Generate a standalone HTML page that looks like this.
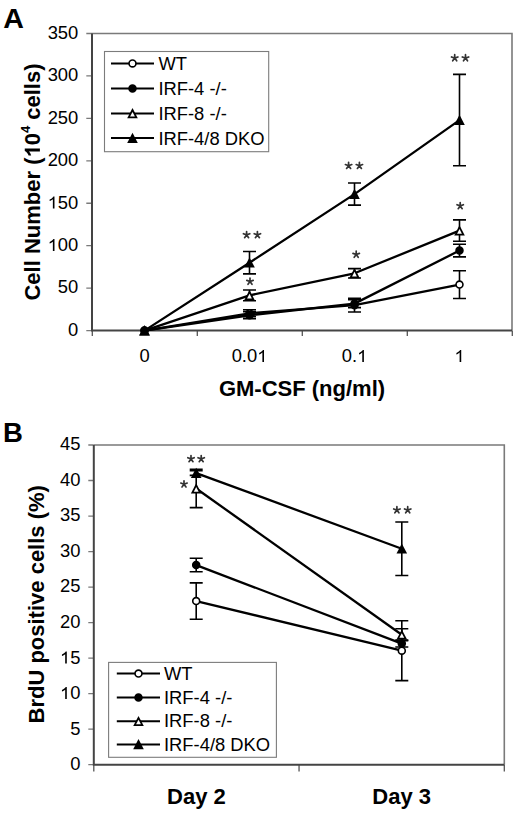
<!DOCTYPE html>
<html><head><meta charset="utf-8"><style>
html,body{margin:0;padding:0;background:#fff;}
svg{display:block;}
text{font-family:"Liberation Sans",sans-serif;fill:#000;font-kerning:none;}
.tl{font-size:17.5px;}
.lg{font-size:17.5px;}
.at{font-size:22px;font-weight:bold;}
.pl{font-size:27.5px;font-weight:bold;}
.sup{font-size:13px;}
.ast{font-size:27px;fill:#222;}
</style></head><body>
<svg width="520" height="815" viewBox="0 0 520 815">
<rect width="520" height="815" fill="#fff"/>
<path d="M92 33.5H512V330.6" stroke="#7a7a7a" stroke-width="1.6" fill="none"/>
<path d="M86.3 330.6H92M86.3 288.16H92M86.3 245.71H92M86.3 203.27H92M86.3 160.83H92M86.3 118.39H92M86.3 75.94H92M86.3 33.5H92" stroke="#7a7a7a" stroke-width="1.3" fill="none"/>
<path d="M92.3 330.6V336M197.3 330.6V336M302.3 330.6V336M407.3 330.6V336M512.3 330.6V336" stroke="#555" stroke-width="1.3" fill="none"/>
<path d="M92 33.5V330.6H512" stroke="#444" stroke-width="2" fill="none"/>
<g transform="translate(78.3 335.9) scale(1.05 1)"><text x="-9.73" y="0" style="font-size:17.5px">0</text></g>
<g transform="translate(78.3 293.46) scale(1.05 1)"><text x="-19.47" y="0" style="font-size:17.5px">50</text></g>
<g transform="translate(78.3 251.01) scale(1.05 1)"><text x="-29.2" y="0" style="font-size:17.5px"> 00</text><path d="M763 0L583 0L583 1147C540 1106 483 1064 413 1023C343 982 280 951 223 930L223 1104C324 1151 412 1209 487 1276C562 1344 615 1409 646 1472L763 1472Z" transform="translate(-29.2 0) scale(0.00854 -0.00818)"/></g>
<g transform="translate(78.3 208.57) scale(1.05 1)"><text x="-29.2" y="0" style="font-size:17.5px"> 50</text><path d="M763 0L583 0L583 1147C540 1106 483 1064 413 1023C343 982 280 951 223 930L223 1104C324 1151 412 1209 487 1276C562 1344 615 1409 646 1472L763 1472Z" transform="translate(-29.2 0) scale(0.00854 -0.00818)"/></g>
<g transform="translate(78.3 166.13) scale(1.05 1)"><text x="-29.2" y="0" style="font-size:17.5px">200</text></g>
<g transform="translate(78.3 123.69) scale(1.05 1)"><text x="-29.2" y="0" style="font-size:17.5px">250</text></g>
<g transform="translate(78.3 81.24) scale(1.05 1)"><text x="-29.2" y="0" style="font-size:17.5px">300</text></g>
<g transform="translate(78.3 38.8) scale(1.05 1)"><text x="-29.2" y="0" style="font-size:17.5px">350</text></g>
<g transform="translate(144.5 362) scale(1.05 1)"><text x="-4.87" y="0" style="font-size:17.5px">0</text></g>
<g transform="translate(249.5 362) scale(1.05 1)"><text x="-17.03" y="0" style="font-size:17.5px">0.0 </text><path d="M763 0L583 0L583 1147C540 1106 483 1064 413 1023C343 982 280 951 223 930L223 1104C324 1151 412 1209 487 1276C562 1344 615 1409 646 1472L763 1472Z" transform="translate(7.3 0) scale(0.00854 -0.00818)"/></g>
<g transform="translate(354.5 362) scale(1.05 1)"><text x="-12.16" y="0" style="font-size:17.5px">0. </text><path d="M763 0L583 0L583 1147C540 1106 483 1064 413 1023C343 982 280 951 223 930L223 1104C324 1151 412 1209 487 1276C562 1344 615 1409 646 1472L763 1472Z" transform="translate(2.43 0) scale(0.00854 -0.00818)"/></g>
<g transform="translate(459.5 362) scale(1.05 1)"><text x="-4.87" y="0" style="font-size:17.5px"> </text><path d="M763 0L583 0L583 1147C540 1106 483 1064 413 1023C343 982 280 951 223 930L223 1104C324 1151 412 1209 487 1276C562 1344 615 1409 646 1472L763 1472Z" transform="translate(-4.87 0) scale(0.00854 -0.00818)"/></g>
<rect x="104.5" y="51.5" width="164.2" height="100.2" fill="#fff" stroke="#7c7c7c" stroke-width="1.1"/>
<path d="M111 63.4H154" stroke="#000" stroke-width="2"/>
<circle cx="132.5" cy="63.4" r="3.45" fill="#fff" stroke="#000" stroke-width="1.6"/>
<text transform="translate(158.4 70.1) scale(1.05 1)" class="lg">WT</text>
<path d="M111 88.4H154" stroke="#000" stroke-width="2"/>
<circle cx="132.5" cy="88.4" r="3.45" fill="#000" stroke="#000" stroke-width="1.6"/>
<text transform="translate(158.4 95.1) scale(1.05 1)" class="lg">IRF-4 -/-</text>
<path d="M111 113.4H154" stroke="#000" stroke-width="2"/>
<path d="M132.5 108.1L137.8 118.3L127.2 118.3Z" fill="#000"/><path d="M132.5 111.9L134.92 116.55L130.08 116.55Z" fill="#fff"/>
<text transform="translate(158.4 120.1) scale(1.05 1)" class="lg">IRF-8 -/-</text>
<path d="M111 138.1H154" stroke="#000" stroke-width="2"/>
<path d="M132.5 132.8L137.8 143L127.2 143Z" fill="#000"/>
<text transform="translate(158.4 144.8) scale(1.05 1)" class="lg">IRF-4/8 DKO</text>
<path d="M144.5 330.6L249.5 313.28L354.5 305.13L459.5 284.59" stroke="#000" stroke-width="2.3" fill="none" stroke-linejoin="round"/>
<path d="M144.5 330.6L249.5 315.24L354.5 303.61L459.5 250.55" stroke="#000" stroke-width="2.3" fill="none" stroke-linejoin="round"/>
<path d="M144.5 330.6L249.5 295.37L354.5 273.3L459.5 230.6" stroke="#000" stroke-width="2.3" fill="none" stroke-linejoin="round"/>
<path d="M144.5 330.6L249.5 262.69L354.5 194.1L459.5 120.08" stroke="#000" stroke-width="2.3" fill="none" stroke-linejoin="round"/>
<path d="M249.5 309.8V316.76M243 309.8H256M243 316.76H256" stroke="#000" stroke-width="1.6" fill="none"/>
<path d="M354.5 298.26V312.01M348 298.26H361M348 312.01H361" stroke="#000" stroke-width="1.6" fill="none"/>
<path d="M459.5 270.76V298.43M453 270.76H466M453 298.43H466" stroke="#000" stroke-width="1.6" fill="none"/>
<circle cx="144.5" cy="330.6" r="3.45" fill="#fff" stroke="#000" stroke-width="1.6"/>
<circle cx="249.5" cy="313.28" r="3.45" fill="#fff" stroke="#000" stroke-width="1.6"/>
<circle cx="354.5" cy="305.13" r="3.45" fill="#fff" stroke="#000" stroke-width="1.6"/>
<circle cx="459.5" cy="284.59" r="3.45" fill="#fff" stroke="#000" stroke-width="1.6"/>
<path d="M249.5 311.67V318.8M243 311.67H256M243 318.8H256" stroke="#000" stroke-width="1.6" fill="none"/>
<path d="M354.5 299.62V307.6M348 299.62H361M348 307.6H361" stroke="#000" stroke-width="1.6" fill="none"/>
<path d="M459.5 244.27V256.83M453 244.27H466M453 256.83H466" stroke="#000" stroke-width="1.6" fill="none"/>
<circle cx="144.5" cy="330.6" r="3.45" fill="#000" stroke="#000" stroke-width="1.6"/>
<circle cx="249.5" cy="315.24" r="3.45" fill="#000" stroke="#000" stroke-width="1.6"/>
<circle cx="354.5" cy="303.61" r="3.45" fill="#000" stroke="#000" stroke-width="1.6"/>
<circle cx="459.5" cy="250.55" r="3.45" fill="#000" stroke="#000" stroke-width="1.6"/>
<path d="M249.5 290.02V300.72M243 290.02H256M243 300.72H256" stroke="#000" stroke-width="1.6" fill="none"/>
<path d="M354.5 268.63V277.97M348 268.63H361M348 277.97H361" stroke="#000" stroke-width="1.6" fill="none"/>
<path d="M459.5 219.91V241.3M453 219.91H466M453 241.3H466" stroke="#000" stroke-width="1.6" fill="none"/>
<path d="M144.5 325.3L149.8 335.5L139.2 335.5Z" fill="#000"/><path d="M144.5 329.1L146.92 333.75L142.08 333.75Z" fill="#fff"/>
<path d="M249.5 290.07L254.8 300.27L244.2 300.27Z" fill="#000"/><path d="M249.5 293.87L251.92 298.52L247.08 298.52Z" fill="#fff"/>
<path d="M354.5 268L359.8 278.2L349.2 278.2Z" fill="#000"/><path d="M354.5 271.8L356.92 276.45L352.08 276.45Z" fill="#fff"/>
<path d="M459.5 225.3L464.8 235.5L454.2 235.5Z" fill="#000"/><path d="M459.5 229.1L461.92 233.75L457.08 233.75Z" fill="#fff"/>
<path d="M249.5 251.49V273.9M243 251.49H256M243 273.9H256" stroke="#000" stroke-width="1.6" fill="none"/>
<path d="M354.5 183.07V205.14M348 183.07H361M348 205.14H361" stroke="#000" stroke-width="1.6" fill="none"/>
<path d="M459.5 74.41V165.75M453 74.41H466M453 165.75H466" stroke="#000" stroke-width="1.6" fill="none"/>
<path d="M144.5 325.3L149.8 335.5L139.2 335.5Z" fill="#000"/>
<path d="M249.5 257.39L254.8 267.59L244.2 267.59Z" fill="#000"/>
<path d="M354.5 188.8L359.8 199L349.2 199Z" fill="#000"/>
<path d="M459.5 114.78L464.8 124.98L454.2 124.98Z" fill="#000"/>
<path d="M246.6 234.9L246.6 231.5M246.6 234.9L249.79 233.74M246.6 234.9L243.41 233.74M246.6 234.9L248.6 237.65M246.6 234.9L244.6 237.65" stroke="#333" stroke-width="1.7" stroke-linecap="round" fill="none"/>
<path d="M257.4 234.9L257.4 231.5M257.4 234.9L260.59 233.74M257.4 234.9L254.21 233.74M257.4 234.9L259.4 237.65M257.4 234.9L255.4 237.65" stroke="#333" stroke-width="1.7" stroke-linecap="round" fill="none"/>
<path d="M250 281.5L250 278.1M250 281.5L253.19 280.34M250 281.5L246.81 280.34M250 281.5L252 284.25M250 281.5L248 284.25" stroke="#333" stroke-width="1.7" stroke-linecap="round" fill="none"/>
<path d="M348.6 165.7L348.6 162.3M348.6 165.7L351.79 164.54M348.6 165.7L345.41 164.54M348.6 165.7L350.6 168.45M348.6 165.7L346.6 168.45" stroke="#333" stroke-width="1.7" stroke-linecap="round" fill="none"/>
<path d="M359.4 165.7L359.4 162.3M359.4 165.7L362.59 164.54M359.4 165.7L356.21 164.54M359.4 165.7L361.4 168.45M359.4 165.7L357.4 168.45" stroke="#333" stroke-width="1.7" stroke-linecap="round" fill="none"/>
<path d="M356.2 254.5L356.2 251.1M356.2 254.5L359.39 253.34M356.2 254.5L353.01 253.34M356.2 254.5L358.2 257.25M356.2 254.5L354.2 257.25" stroke="#333" stroke-width="1.7" stroke-linecap="round" fill="none"/>
<path d="M454.7 58.1L454.7 54.7M454.7 58.1L457.89 56.94M454.7 58.1L451.51 56.94M454.7 58.1L456.7 60.85M454.7 58.1L452.7 60.85" stroke="#333" stroke-width="1.7" stroke-linecap="round" fill="none"/>
<path d="M465.5 58.1L465.5 54.7M465.5 58.1L468.69 56.94M465.5 58.1L462.31 56.94M465.5 58.1L467.5 60.85M465.5 58.1L463.5 60.85" stroke="#333" stroke-width="1.7" stroke-linecap="round" fill="none"/>
<path d="M460.2 205.9L460.2 202.5M460.2 205.9L463.39 204.74M460.2 205.9L457.01 204.74M460.2 205.9L462.2 208.65M460.2 205.9L458.2 208.65" stroke="#333" stroke-width="1.7" stroke-linecap="round" fill="none"/>
<text transform="translate(3.2 28.1) scale(1.04 1)" class="pl">A</text>
<text x="302" y="396.3" class="at" text-anchor="middle">GM-CSF (ng/ml)</text>
<g transform="translate(39.9 182) rotate(-90)"><text x="-118.55" y="0" class="at">Cell Number ( 0</text><path d="M834 0L553 0L553 1059C450 963 329 892 190 846L190 1101C263 1125 343 1170 429 1237C515 1304 574 1382 606 1472L834 1472Z" transform="translate(24.48 0) scale(0.01074 -0.01028)"/><text x="48.95" y="-9.5" class="at" style="font-size:13px">4</text><text x="56.18" y="0" class="at"> cells)</text></g>
<path d="M93.8 445H504.3V764.7" stroke="#7a7a7a" stroke-width="1.6" fill="none"/>
<path d="M88.3 764.7H93.8M88.3 729.18H93.8M88.3 693.66H93.8M88.3 658.13H93.8M88.3 622.61H93.8M88.3 587.09H93.8M88.3 551.57H93.8M88.3 516.04H93.8M88.3 480.52H93.8M88.3 445H93.8" stroke="#7a7a7a" stroke-width="1.3" fill="none"/>
<path d="M93.8 764.7V771.5M299.05 764.7V771.5M504.3 764.7V771.5" stroke="#555" stroke-width="1.3" fill="none"/>
<path d="M93.8 445V764.7H504.3" stroke="#444" stroke-width="2" fill="none"/>
<g transform="translate(80.4 770.1) scale(1.05 1)"><text x="-9.73" y="0" style="font-size:17.5px">0</text></g>
<g transform="translate(80.4 734.58) scale(1.05 1)"><text x="-9.73" y="0" style="font-size:17.5px">5</text></g>
<g transform="translate(80.4 699.06) scale(1.05 1)"><text x="-19.47" y="0" style="font-size:17.5px"> 0</text><path d="M763 0L583 0L583 1147C540 1106 483 1064 413 1023C343 982 280 951 223 930L223 1104C324 1151 412 1209 487 1276C562 1344 615 1409 646 1472L763 1472Z" transform="translate(-19.47 0) scale(0.00854 -0.00818)"/></g>
<g transform="translate(80.4 663.53) scale(1.05 1)"><text x="-19.47" y="0" style="font-size:17.5px"> 5</text><path d="M763 0L583 0L583 1147C540 1106 483 1064 413 1023C343 982 280 951 223 930L223 1104C324 1151 412 1209 487 1276C562 1344 615 1409 646 1472L763 1472Z" transform="translate(-19.47 0) scale(0.00854 -0.00818)"/></g>
<g transform="translate(80.4 628.01) scale(1.05 1)"><text x="-19.47" y="0" style="font-size:17.5px">20</text></g>
<g transform="translate(80.4 592.49) scale(1.05 1)"><text x="-19.47" y="0" style="font-size:17.5px">25</text></g>
<g transform="translate(80.4 556.97) scale(1.05 1)"><text x="-19.47" y="0" style="font-size:17.5px">30</text></g>
<g transform="translate(80.4 521.44) scale(1.05 1)"><text x="-19.47" y="0" style="font-size:17.5px">35</text></g>
<g transform="translate(80.4 485.92) scale(1.05 1)"><text x="-19.47" y="0" style="font-size:17.5px">40</text></g>
<g transform="translate(80.4 450.4) scale(1.05 1)"><text x="-19.47" y="0" style="font-size:17.5px">45</text></g>
<rect x="108.6" y="662.4" width="167.8" height="94.9" fill="#fff" stroke="#7c7c7c" stroke-width="1.1"/>
<path d="M116.8 673.6H160" stroke="#000" stroke-width="2"/>
<circle cx="138.5" cy="673.6" r="3.45" fill="#fff" stroke="#000" stroke-width="1.6"/>
<text transform="translate(164.0 679.8) scale(1.05 1)" class="lg">WT</text>
<path d="M116.8 697.5H160" stroke="#000" stroke-width="2"/>
<circle cx="138.5" cy="697.5" r="3.45" fill="#000" stroke="#000" stroke-width="1.6"/>
<text transform="translate(164.0 703.7) scale(1.05 1)" class="lg">IRF-4 -/-</text>
<path d="M116.8 721.2H160" stroke="#000" stroke-width="2"/>
<path d="M138.5 715.9L143.8 726.1L133.2 726.1Z" fill="#000"/><path d="M138.5 719.7L140.92 724.35L136.08 724.35Z" fill="#fff"/>
<text transform="translate(164.0 727.4) scale(1.05 1)" class="lg">IRF-8 -/-</text>
<path d="M116.8 744.4H160" stroke="#000" stroke-width="2"/>
<path d="M138.5 739.1L143.8 749.3L133.2 749.3Z" fill="#000"/>
<text transform="translate(164.0 750.6) scale(1.05 1)" class="lg">IRF-4/8 DKO</text>
<path d="M196.2 601.08L401.8 650.67" stroke="#000" stroke-width="2.3" fill="none" stroke-linejoin="round"/>
<path d="M196.2 565.07L401.8 643.57" stroke="#000" stroke-width="2.3" fill="none" stroke-linejoin="round"/>
<path d="M196.2 488.48L401.8 634.69" stroke="#000" stroke-width="2.3" fill="none" stroke-linejoin="round"/>
<path d="M196.2 473.06L401.8 548.72" stroke="#000" stroke-width="2.3" fill="none" stroke-linejoin="round"/>
<path d="M196.2 582.9V619.27M189.7 582.9H202.7M189.7 619.27H202.7" stroke="#000" stroke-width="1.6" fill="none"/>
<path d="M401.8 620.69V680.65M395.3 620.69H408.3M395.3 680.65H408.3" stroke="#000" stroke-width="1.6" fill="none"/>
<circle cx="196.2" cy="601.08" r="3.45" fill="#fff" stroke="#000" stroke-width="1.6"/>
<circle cx="401.8" cy="650.67" r="3.45" fill="#fff" stroke="#000" stroke-width="1.6"/>
<path d="M196.2 558.32V571.81M189.7 558.32H202.7M189.7 571.81H202.7" stroke="#000" stroke-width="1.6" fill="none"/>
<path d="M401.8 640.16V646.98M395.3 640.16H408.3M395.3 646.98H408.3" stroke="#000" stroke-width="1.6" fill="none"/>
<circle cx="196.2" cy="565.07" r="3.45" fill="#000" stroke="#000" stroke-width="1.6"/>
<circle cx="401.8" cy="643.57" r="3.45" fill="#000" stroke="#000" stroke-width="1.6"/>
<path d="M196.2 469.3V507.66M189.7 469.3H202.7M189.7 507.66H202.7" stroke="#000" stroke-width="1.6" fill="none"/>
<path d="M401.8 628.79V640.59M395.3 628.79H408.3M395.3 640.59H408.3" stroke="#000" stroke-width="1.6" fill="none"/>
<path d="M196.2 483.18L201.5 493.38L190.9 493.38Z" fill="#000"/><path d="M196.2 486.97L198.62 491.63L193.78 491.63Z" fill="#fff"/>
<path d="M401.8 629.39L407.1 639.59L396.5 639.59Z" fill="#000"/><path d="M401.8 633.18L404.22 637.84L399.38 637.84Z" fill="#fff"/>
<path d="M196.2 470.79V475.34M189.7 470.79H202.7M189.7 475.34H202.7" stroke="#000" stroke-width="1.6" fill="none"/>
<path d="M401.8 521.94V575.51M395.3 521.94H408.3M395.3 575.51H408.3" stroke="#000" stroke-width="1.6" fill="none"/>
<path d="M196.2 467.76L201.5 477.96L190.9 477.96Z" fill="#000"/>
<path d="M401.8 543.42L407.1 553.62L396.5 553.62Z" fill="#000"/>
<path d="M191 458.9L191 455.5M191 458.9L194.19 457.74M191 458.9L187.81 457.74M191 458.9L193 461.65M191 458.9L189 461.65" stroke="#333" stroke-width="1.7" stroke-linecap="round" fill="none"/>
<path d="M201.2 458.9L201.2 455.5M201.2 458.9L204.39 457.74M201.2 458.9L198.01 457.74M201.2 458.9L203.2 461.65M201.2 458.9L199.2 461.65" stroke="#333" stroke-width="1.7" stroke-linecap="round" fill="none"/>
<path d="M184 484.2L184 480.8M184 484.2L187.19 483.04M184 484.2L180.81 483.04M184 484.2L186 486.95M184 484.2L182 486.95" stroke="#333" stroke-width="1.7" stroke-linecap="round" fill="none"/>
<path d="M396.9 510.1L396.9 506.7M396.9 510.1L400.09 508.94M396.9 510.1L393.71 508.94M396.9 510.1L398.9 512.85M396.9 510.1L394.9 512.85" stroke="#333" stroke-width="1.7" stroke-linecap="round" fill="none"/>
<path d="M407.7 510.1L407.7 506.7M407.7 510.1L410.89 508.94M407.7 510.1L404.51 508.94M407.7 510.1L409.7 512.85M407.7 510.1L405.7 512.85" stroke="#333" stroke-width="1.7" stroke-linecap="round" fill="none"/>
<text x="2.9" y="441.5" class="pl">B</text>
<text x="196.4" y="803.6" class="at" text-anchor="middle">Day 2</text>
<text x="401.7" y="803.6" class="at" text-anchor="middle">Day 3</text>
<text transform="translate(44.1 604.3) rotate(-90)" class="at" text-anchor="middle">BrdU positive cells (%)</text>
</svg>
</body></html>
